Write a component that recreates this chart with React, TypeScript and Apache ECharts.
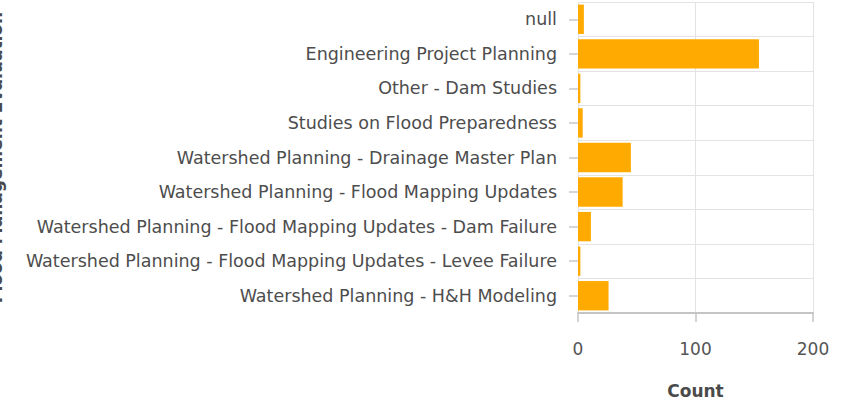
import React, { useEffect, useRef } from "react";
import * as echarts from "echarts";

const categories = [
  "null",
  "Engineering Project Planning",
  "Other - Dam Studies",
  "Studies on Flood Preparedness",
  "Watershed Planning - Drainage Master Plan",
  "Watershed Planning - Flood Mapping Updates",
  "Watershed Planning - Flood Mapping Updates - Dam Failure",
  "Watershed Planning - Flood Mapping Updates - Levee Failure",
  "Watershed Planning - H&H Modeling",
];
const counts = [5, 154, 2, 4, 45, 38, 11, 2, 26];
const xTicks = [0, 100, 200];

const FONT = "'DejaVu Sans', sans-serif";

export default function App() {
  const ref = useRef<HTMLDivElement>(null);
  useEffect(() => {
    if (!ref.current) return;
    const chart = echarts.init(ref.current, null, { renderer: "svg" });
    chart.setOption({
      animation: false,
      grid: { left: 578, right: 35, top: 2, bottom: 91, containLabel: false, outerBoundsMode: "none" },
      xAxis: {
        type: "value",
        min: xTicks[0],
        max: xTicks[xTicks.length - 1],
        interval: 100,
        name: "Count",
        nameLocation: "middle",
        nameGap: 69,
        nameTextStyle: { fontFamily: FONT, fontSize: 17, fontWeight: "bold", color: "#4a4a4a" },
        axisLine: { show: true, lineStyle: { color: "#c4c4c4", width: 2 } },
        axisTick: { show: true, length: 9, lineStyle: { color: "#c4c4c4", width: 1.5 } },
        axisLabel: { margin: 27, fontFamily: FONT, fontSize: 17, color: "#555" },
        splitLine: { show: true, lineStyle: { color: "#e3e3e3", width: 1 } },
      },
      yAxis: {
        type: "category",
        data: categories,
        inverse: true,
        name: "Flood Management Evaluation",
        nameLocation: "middle",
        nameRotate: 90,
        nameGap: 574,
        nameTextStyle: { fontFamily: FONT, fontSize: 17, fontWeight: "bold", color: "#4a4a4a" },
        axisLine: { show: false },
        axisTick: { show: true, alignWithLabel: true, length: 9, lineStyle: { color: "#c8c8c8", width: 1.5 } },
        axisLabel: { margin: 21, fontFamily: FONT, fontSize: 17.5, color: "#4d4d4d" },
        splitLine: { show: true, lineStyle: { color: "#e3e3e3", width: 1 } },
      },
      series: [
        {
          type: "bar",
          data: counts,
          barCategoryGap: "15%",
          itemStyle: { color: "#ffaa00" },
        },
      ],
    });
    return () => chart.dispose();
  }, []);
  return <div ref={ref} style={{ width: 848, height: 404, position: "absolute", left: 0, top: 0 }} />;
}
